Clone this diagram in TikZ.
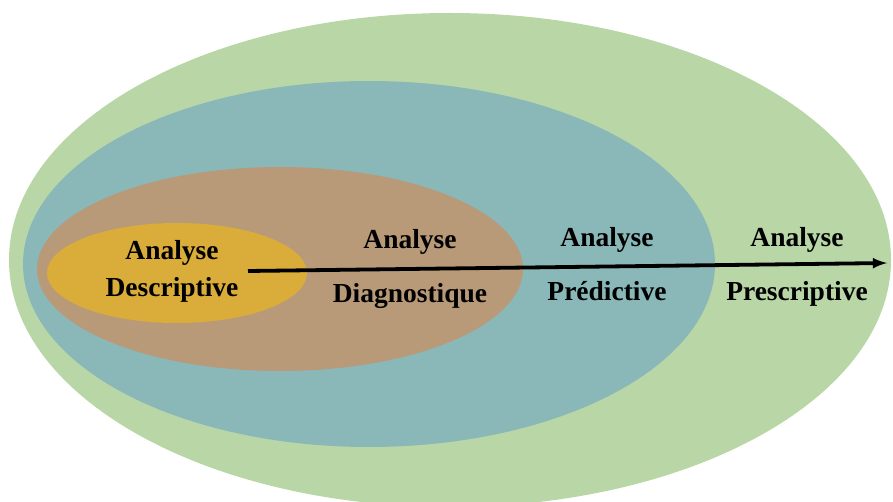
\documentclass[tikz,border=0pt]{standalone}
\usepackage{fontspec}
\setmainfont{Liberation Serif}
\usepackage{xcolor}
\usepackage{tikz}
\usetikzlibrary{arrows}

\definecolor{outergreen}{RGB}{185,214,166}
\definecolor{tealblue}{RGB}{138,184,185}
\definecolor{tanbrown}{RGB}{184,154,120}
\definecolor{goldyellow}{RGB}{218,172,58}

\begin{document}
\begin{tikzpicture}[x=1pt,y=-1pt,
	lbl/.style={font=\fontsize{27.5}{32}\selectfont\bfseries,anchor=base}]
\useasboundingbox (0,0) rectangle (893,502);
\clip (0,0) rectangle (893,502);
\fill[outergreen] (450,260) ellipse [x radius=441,y radius=247];
\fill[tealblue] (369,264) ellipse [x radius=346,y radius=183];
\fill[tanbrown] (280,269) ellipse [x radius=243,y radius=102];
\fill[goldyellow] (177,273) ellipse [x radius=130,y radius=50];
	\node[lbl] (desc1) at (172,260) {Analyse};
	\node[lbl] (desc2) at (172,297) {Descriptive};
	\node[lbl] (diag1) at (410,249) {Analyse};
	\node[lbl] (diag2) at (410,302) {Diagnostique};
	\node[lbl] (pred1) at (607,247) {Analyse};
	\node[lbl] (pred2) at (607,301) {Prédictive};
	\node[lbl] (presc1) at (797,247) {Analyse};
	\node[lbl] (presc2) at (797,300) {Prescriptive};
\coordinate (start) at (248,271);
\coordinate (tip) at (887,263);
\draw[line width=3.8pt,-latex] (start) -- (tip);
\end{tikzpicture}
\end{document}
